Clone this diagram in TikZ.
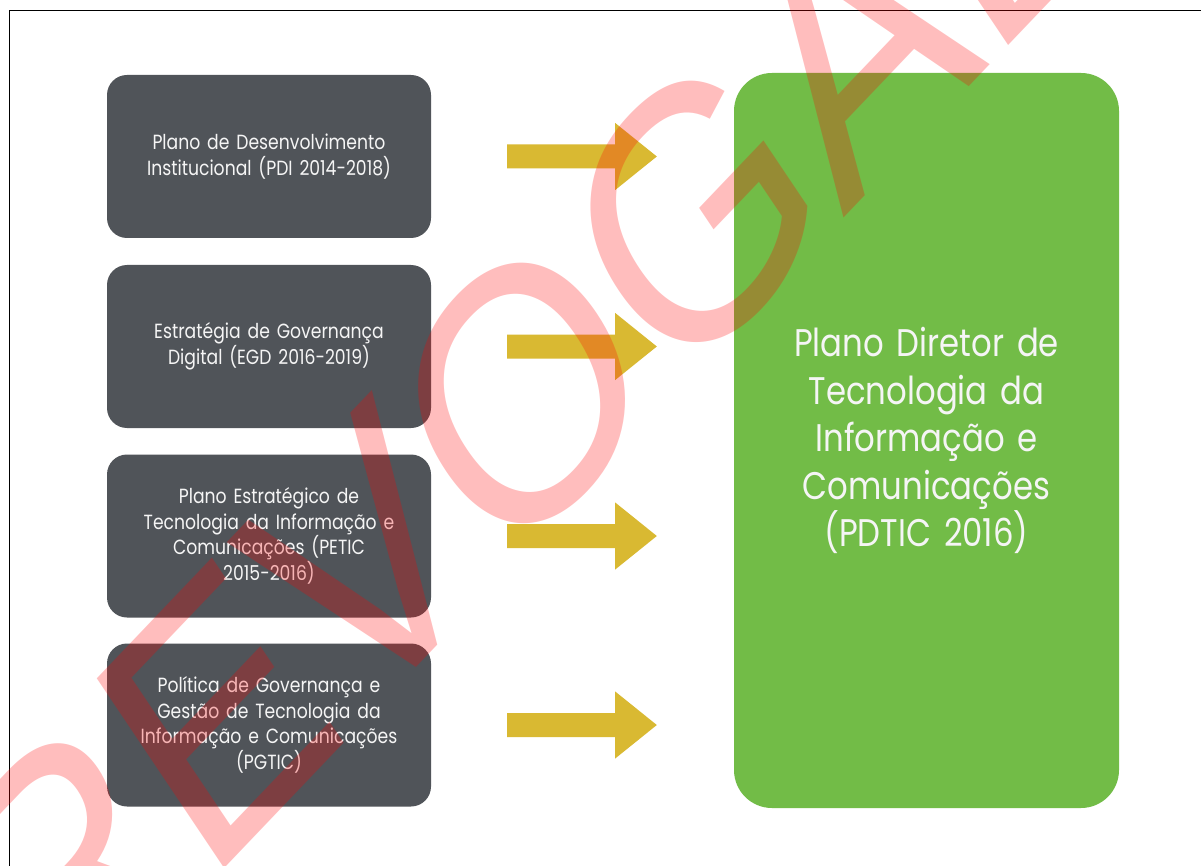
\documentclass[tikz,border=0pt]{standalone}
\usepackage{fontspec}
\setmainfont{Poppins}[FakeStretch=0.84]
\newfontfamily\wmfont{Liberation Sans}
\usetikzlibrary{calc}
\definecolor{boxgray}{RGB}{80,84,89}
\definecolor{boxgreen}{RGB}{114,188,71}
\definecolor{arrowgold}{RGB}{217,185,50}
\definecolor{txtwhite}{RGB}{245,245,245}
\definecolor{wmred}{RGB}{255,0,0}
\tikzset{
  smallbox/.style={fill=boxgray, rounded corners=20pt, minimum width=324pt, minimum height=163pt,
    text width=300pt, align=center, text=txtwhite, inner sep=0pt,
    font=\fontsize{20.5}{25.5}\selectfont},
  bigbox/.style={fill=boxgreen, rounded corners=38pt, minimum width=385pt, minimum height=735pt,
    text width=360pt, align=center, text=txtwhite, inner sep=0pt,
    font=\fontsize{38.5}{47.5}\selectfont},
  blockarrow/.style={fill=arrowgold},
  watermark/.style={text=wmred, opacity=0.26, inner sep=0pt,
    font=\wmfont\fontsize{360}{360}\selectfont},
  frameline/.style={draw=black, line width=1.5pt}
}
\begin{document}
\begin{tikzpicture}[x=1pt,y=-1pt]
\useasboundingbox (0,0) rectangle (1201,866);
\clip (0,0) rectangle (1201,866);
\fill[white] (0,0) rectangle (1201,866);
\draw[frameline] (1215,10.5) -- (9.5,10.5) -- (9.5,880);

\node[smallbox] (b1) at (269,156.5) {Plano de Desenvolvimento\\Institucional (PDI 2014-2018)};
\node[smallbox] (b2) at (269,346.5) {Estratégia de Governança\\Digital (EGD 2016-2019)};
\node[smallbox] (b3) at (269,536) {Plano Estratégico de\\Tecnologia da Informação e\\Comunicações (PETIC\\2015-2016)};
\node[smallbox] (b4) at (269,725) {Política de Governança e\\Gestão de Tecnologia da\\Informação e Comunicações\\(PGTIC)};

\node[bigbox] (g) at (926.5,440.5) {Plano Diretor de\\Tecnologia da\\Informação e\\Comunicações\\(PDTIC 2016)};

\foreach \i in {1,...,4} {
  \coordinate (s\i) at ([xshift=76pt]b\i.east);
  \coordinate (t\i) at ([xshift=-77pt]g.west |- b\i.east);
  \fill[blockarrow] ([yshift=12pt]s\i) -- ([shift={(108pt,12pt)}]s\i) -- ([shift={(108pt,33.5pt)}]s\i)
     -- (t\i) -- ([shift={(108pt,-33.5pt)}]s\i) -- ([shift={(108pt,-12pt)}]s\i) -- ([yshift=-12pt]s\i) -- cycle;
}

\begin{scope}[shift={(684.4,385.8)}, xscale=0.8]
  \node[watermark, transform shape, rotate=40, anchor=base] (wm) at (0,0) {REVOGADO};
\end{scope}
\end{tikzpicture}
\end{document}
